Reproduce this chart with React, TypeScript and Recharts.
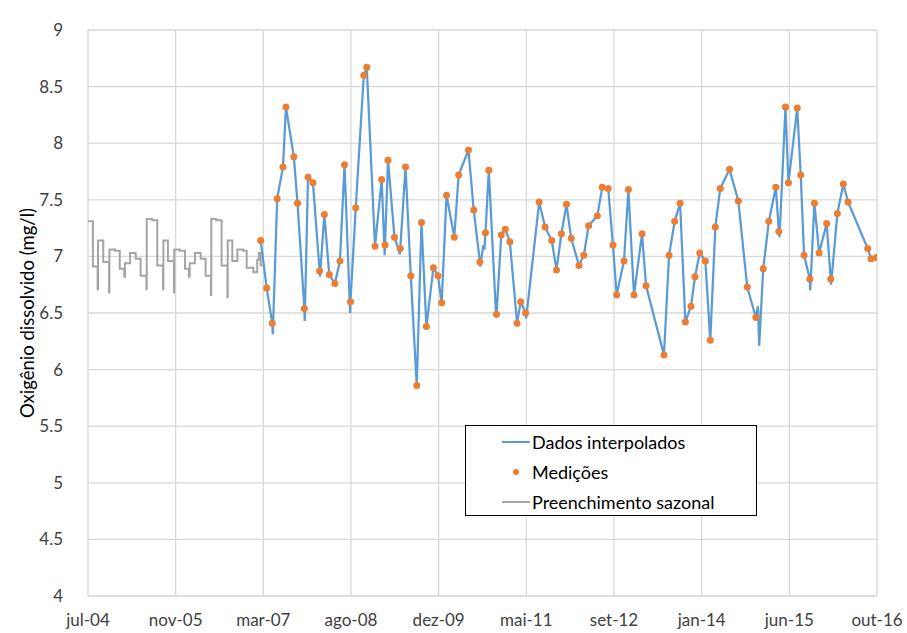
import { ComposedChart, Line, XAxis, YAxis, CartesianGrid, Label } from "recharts";

// days counted from jul-04
const xTicks = [0, 500, 1000, 1500, 2000, 2500, 3000, 3500, 4000, 4500];
const xTickLabels = ["jul-04", "nov-05", "mar-07", "ago-08", "dez-09", "mai-11", "set-12", "jan-14", "jun-15", "out-16"];
const yTicks = [4, 4.5, 5, 5.5, 6, 6.5, 7, 7.5, 8, 8.5, 9];

const measDays = [
  985, 1019, 1051, 1079, 1112, 1129, 1174, 1195, 1234, 1255, 1283, 1321, 1348, 1376, 1408, 1437, 1463, 1497, 1527,
  1573, 1590, 1637, 1675, 1694, 1711, 1748, 1781, 1811, 1841, 1875, 1902, 1930, 1970, 1996, 2017, 2045, 2089, 2114,
  2170, 2200, 2235, 2267, 2286, 2330, 2357, 2380, 2406, 2447, 2468, 2496, 2573, 2607, 2645, 2672, 2700, 2729, 2756,
  2800, 2828, 2855, 2905, 2933, 2967, 2994, 3015, 3057, 3082, 3114, 3160, 3183, 3285, 3314, 3346, 3377, 3407, 3439,
  3462, 3489, 3521, 3549, 3578, 3606, 3659, 3709, 3760, 3809, 3851, 3883, 3923, 3940, 3978, 3995, 4045, 4065, 4084,
  4117, 4143, 4170, 4213, 4236, 4274, 4308, 4335, 4447, 4466, 4497,
];
const measValues = [
  7.14, 6.72, 6.41, 7.51, 7.79, 8.32, 7.88, 7.47, 6.54, 7.7, 7.65, 6.87, 7.37, 6.84, 6.76, 6.96, 7.81, 6.6, 7.43,
  8.6, 8.67, 7.09, 7.68, 7.1, 7.85, 7.17, 7.07, 7.79, 6.83, 5.86, 7.3, 6.38, 6.9, 6.83, 6.59, 7.54, 7.17, 7.72,
  7.94, 7.41, 6.95, 7.21, 7.76, 6.49, 7.19, 7.24, 7.13, 6.41, 6.6, 6.5, 7.48, 7.26, 7.14, 6.88, 7.2, 7.46, 7.16,
  6.92, 7.01, 7.27, 7.36, 7.61, 7.6, 7.1, 6.66, 6.96, 7.59, 6.66, 7.2, 6.74, 6.13, 7.01, 7.31, 7.47, 6.42, 6.56,
  6.82, 7.03, 6.96, 6.26, 7.26, 7.6, 7.77, 7.49, 6.73, 6.46, 6.89, 7.31, 7.61, 7.22, 8.32, 7.65, 8.31, 7.72, 7.01,
  6.8, 7.47, 7.03, 7.29, 6.8, 7.38, 7.64, 7.48, 7.07, 6.98, 6.99,
];

// extra vertices of the interpolated line between measurements
const extraDays = [1054, 1236, 1323, 1495, 1692, 1779, 2237, 2255, 2261, 2328, 2499, 3821, 3828, 3944, 4119, 4238];
const extraValues = [6.31, 6.43, 6.82, 6.5, 7.01, 7.02, 6.91, 7.1, 7.06, 6.46, 6.45, 6.56, 6.21, 7.17, 6.7, 6.75];

const seasonalDays = [
  0, 28, 55, 57, 87, 120, 122, 154, 181, 207, 211, 240, 272, 300, 333, 335, 367, 395, 428, 430, 456, 490, 492, 523,
  553, 576, 580, 610, 643, 671, 701, 703, 732, 762, 795, 797, 823, 852, 884, 905, 943, 965, 975, 985, 995,
];
const seasonalValues = [
  7.31, 6.91, 6.71, 7.14, 6.95, 6.68, 7.06, 7.05, 6.89, 6.82, 6.94, 7.03, 6.98, 6.83, 6.71, 7.33, 7.32, 6.92, 6.71,
  7.14, 6.96, 6.68, 7.06, 7.05, 6.89, 6.82, 6.94, 7.03, 6.98, 6.83, 6.66, 7.33, 7.32, 6.92, 6.64, 7.14, 6.96, 7.06,
  7.05, 6.9, 6.86, 6.97, 7.03, 6.92, 6.92,
];

const measData = measDays.map((d, i) => ({ d, v: measValues[i] }));
const interpData = [...measData, ...extraDays.map((d, i) => ({ d, v: extraValues[i] }))].sort((a, b) => a.d - b.d);
const seasonalData = seasonalDays.map((d, i) => ({ d, v: seasonalValues[i] }));

const FONT = "Lato, 'Noto Sans', sans-serif";
const TEXT = "#404040";

function LegendBox() {
  const row = { display: "flex", alignItems: "center", height: 30 } as const;
  const sym = { width: 28, marginLeft: 36, marginRight: 2, display: "flex", justifyContent: "center" } as const;
  return (
    <div
      style={{
        position: "absolute",
        left: 465,
        top: 425,
        width: 292,
        height: 91,
        border: "1px solid #000",
        background: "#fff",
        boxSizing: "border-box",
        paddingTop: 1,
        fontFamily: FONT,
        fontSize: 18,
        color: "#000",
      }}
    >
      <div style={row}>
        <div style={sym}><div style={{ width: 28, height: 2, background: "#5B9BD5" }} /></div>
        <span>Dados interpolados</span>
      </div>
      <div style={row}>
        <div style={sym}><div style={{ width: 6, height: 6, borderRadius: 3, background: "#ED7D31" }} /></div>
        <span>Medições</span>
      </div>
      <div style={row}>
        <div style={sym}><div style={{ width: 28, height: 2, background: "#A5A5A5" }} /></div>
        <span>Preenchimento sazonal</span>
      </div>
    </div>
  );
}

export default function App() {
  return (
    <div style={{ position: "absolute", left: 0, top: 0, width: 907, height: 633, background: "#fff" }}>
      <ComposedChart width={907} height={633} margin={{ top: 30, right: 30, bottom: 0, left: 0 }}>
        <CartesianGrid stroke="#d9d9d9" strokeWidth={1.3} />
        <XAxis
          type="number"
          dataKey="d"
          domain={[0, 4500]}
          ticks={xTicks}
          tickFormatter={(v: number) => xTickLabels[xTicks.indexOf(v)]}
          height={37}
          axisLine={{ stroke: "#d9d9d9" }}
          tickLine={false}
          tickSize={6}
          tickMargin={12}
          tick={{ fill: TEXT, fontSize: 17, fontFamily: FONT }}
          allowDataOverflow
        />
        <YAxis
          type="number"
          domain={[4, 9]}
          ticks={yTicks}
          width={88}
          axisLine={false}
          tickLine={false}
          tickSize={6}
          tickMargin={19}
          tick={{ fill: TEXT, fontSize: 17, fontFamily: FONT }}
          allowDataOverflow
        >
          <Label
            value="Oxigênio dissolvido (mg/l)"
            angle={-90}
            position="center"
            dx={-17}
            style={{ fill: "#000", fontSize: 18.5, fontFamily: FONT, textAnchor: "middle" }}
          />
        </YAxis>
        <Line
          data={seasonalData}
          dataKey="v"
          type="stepAfter"
          stroke="#A5A5A5"
          strokeWidth={2}
          dot={false}
          activeDot={false}
          isAnimationActive={false}
        />
        <Line
          data={interpData}
          dataKey="v"
          type="linear"
          stroke="#5B9BD5"
          strokeWidth={2.25}
          dot={false}
          activeDot={false}
          isAnimationActive={false}
        />
        <Line
          data={measData}
          dataKey="v"
          type="linear"
          stroke="none"
          dot={{ r: 3.5, fill: "#ED7D31", stroke: "none" }}
          activeDot={false}
          isAnimationActive={false}
        />
      </ComposedChart>
      <LegendBox />
    </div>
  );
}
